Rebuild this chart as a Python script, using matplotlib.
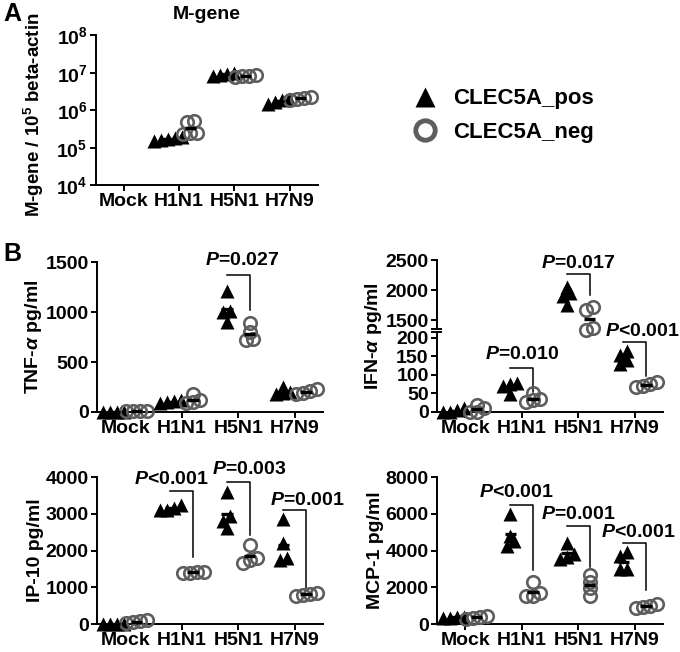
import numpy as np
import matplotlib
matplotlib.use('Agg')
import matplotlib.pyplot as plt
from matplotlib.lines import Line2D

plt.rcParams['font.family'] = ['Liberation Sans', 'DejaVu Sans']
plt.rcParams['font.weight'] = 'bold'
plt.rcParams['mathtext.fontset'] = 'custom'
plt.rcParams['mathtext.rm'] = 'Liberation Sans:bold'
plt.rcParams['mathtext.bf'] = 'Liberation Sans:bold'
plt.rcParams['mathtext.it'] = 'Liberation Sans:italic:bold'
plt.rcParams['axes.linewidth'] = 1.4

# data
groups = ['Mock', 'H1N1', 'H5N1', 'H7N9']

mgene_pos = [[], [1.6e5, 1.8e5, 1.7e5, 1.5e5, 1.9e5], [8.5e6, 9.5e6, 8.0e6, 1.0e7], [1.7e6, 1.9e6, 1.5e6, 2.0e6]]
mgene_neg = [[], [4.8e5, 5.0e5, 2.4e5, 2.3e5, 2.5e5], [8.0e6, 8.5e6, 7.5e6, 8.2e6], [2.0e6, 2.3e6, 2.1e6, 1.9e6]]

tnf_pos = [[0, 0, 0, 0], [120, 90, 110, 100], [1210, 1000, 1010, 900], [250, 200, 190, 180]]
tnf_neg = [[10, 10, 10, 10], [100, 90, 180, 120], [890, 800, 730, 720], [230, 180, 190, 210]]

ifn_pos = [[0, 0, 5, 10], [75, 78, 70, 48], [2050, 1950, 1900, 1750], [165, 155, 130, 140]]
ifn_neg = [[0, 10, 20, 0], [50, 35, 27, 33], [1710, 1660, 1370, 1330], [80, 68, 75, 70]]

ip10_pos = [[10, 10, 10, 10], [3150, 3100, 3250, 3100], [3600, 2950, 2800, 2600], [2850, 2200, 1750, 1800]]
ip10_neg = [[40, 110, 70, 50], [1420, 1380, 1400, 1410], [2150, 1800, 1650, 1750], [850, 760, 800, 820]]

mcp1_pos = [[350, 400, 350, 380], [6000, 4800, 4500, 4250], [4400, 3800, 3650, 3550], [3700, 3900, 3000, 3000]]
mcp1_neg = [[350, 450, 250, 380], [2300, 1700, 1500, 1550], [2650, 2300, 1950, 1550], [1100, 850, 950, 1000]]

# p-value labels: (group index, label)
tnf_p = [(2, '$P$=0.027')]
ifn_p = [(1, '$P$=0.010'), (2, '$P$=0.017'), (3, '$P$<0.001')]
ip10_p = [(1, '$P$<0.001'), (2, '$P$=0.003'), (3, '$P$=0.001')]
mcp1_p = [(1, '$P$<0.001'), (2, '$P$=0.001'), (3, '$P$<0.001')]

# bracket layout: (bracket top, bracket end, text dx, text y)
tnf_br = [(1370, 1020, 0.07, 1520)]
ifn_br = [(119, 55, 0.0, 154), (2270, 1914, 0.0, 2450), (188, 96, 0.14, 217)]
ip10_br = [(3620, 1810, -0.18, 3930), (3868, 2429, 0.2, 4194), (3090, 971, 0.22, 3356)]
mcp1_br = [(6481, 2914, -0.1, 7152), (5351, 3090, 0.0, 5951), (4415, 1854, 0.07, 4998)]

TICK_FS = 14
P_FS = 14
GREY = '#5e5e5e'

fig = plt.figure(figsize=(6.8, 6.52), dpi=100)


def style_axis(ax, xaxis=True):
    ax.set_facecolor('none')
    for s in ['top', 'right']:
        ax.spines[s].set_visible(False)
    ax.tick_params(axis='both', direction='out', length=4, width=1.4,
                   labelsize=TICK_FS, pad=2)
    ax.tick_params(axis='x', pad=1.5)
    ax.set_xlim(-0.5, 3.5)
    if xaxis:
        ax.set_xticks(range(len(groups)))
        ax.set_xticklabels(groups, fontweight='bold')
    else:
        ax.spines['bottom'].set_visible(False)
        ax.set_xticks([])
    for lab in ax.get_yticklabels():
        lab.set_fontweight('bold')


def swarm_x(ax, vals, xc, step_px=7, row_px=6):
    # spread points that sit at almost the same height, GraphPad style
    vals = np.asarray(vals, dtype=float)
    xs = np.full(len(vals), float(xc))
    if len(vals) == 0:
        return xs
    py = ax.transData.transform(np.column_stack([np.zeros(len(vals)), vals]))[:, 1]
    px0 = ax.transData.transform([[0, 0], [1, 0]])[:, 0]
    step = step_px / (px0[1] - px0[0])
    order = np.argsort(py)
    rows = [[order[0]]]
    for i in order[1:]:
        if py[i] - py[rows[-1][0]] < row_px:
            rows[-1].append(i)
        else:
            rows.append([i])
    for r in rows:
        n = len(r)
        for k, i in enumerate(r):
            xs[i] = xc + (k - (n - 1) / 2) * step
    return xs


def draw_group(ax, vals, xc, kind):
    if len(vals) == 0:
        return
    xs = swarm_x(ax, vals, xc)
    if kind == 'pos':
        ax.plot(xs, vals, ls='none', marker='^', ms=9.5, color='black',
                mec='none', clip_on=False, zorder=3)
    else:
        ax.plot(xs, vals, ls='none', marker='o', ms=9, mfc='none',
                mec=GREY, mew=1.9, clip_on=False, zorder=3)
    m = np.mean(vals)
    ax.plot([xc - 0.1, xc + 0.1], [m, m], color='black', lw=2.4,
            solid_capstyle='butt', clip_on=False, zorder=4)


def draw_panel(ax, pos, neg, pick=None):
    for i in range(len(groups)):
        for vals, dx, kind in [(pos[i], -0.2, 'pos'), (neg[i], 0.2, 'neg')]:
            if pick is not None and not pick(vals):
                continue
            draw_group(ax, vals, i + dx, kind)


def draw_p(ax, g, label, br):
    top, end, tdx, ty = br
    ax.plot([g - 0.2, g + 0.2, g + 0.2], [top, top, end], color='black',
            lw=1.1, clip_on=False, zorder=2)
    ax.text(g + tdx, ty, label, ha='center', va='center', fontsize=P_FS,
            fontweight='bold', clip_on=False, zorder=5)


# panel A
axA = fig.add_axes([0.141, 0.716, 0.326, 0.230])
axA.set_yscale('log')
axA.set_ylim(1e4, 1e8)
axA.set_yticks([1e4, 1e5, 1e6, 1e7, 1e8])
axA.set_yticklabels(['$10^{%d}$' % e for e in range(4, 9)])
axA.minorticks_off()
style_axis(axA)
draw_panel(axA, mgene_pos, mgene_neg)
axA.set_ylabel('M-gene / 10$^5$ beta-actin', fontsize=13.5, fontweight='bold')
axA.yaxis.set_label_coords(-0.225, 0.47)
axA.set_title('M-gene', fontsize=TICK_FS, fontweight='bold', pad=12)

# legend
handles = [Line2D([], [], ls='none', marker='^', ms=15, color='black', mec='none'),
           Line2D([], [], ls='none', marker='o', ms=14, mfc='none', mec=GREY, mew=3.5)]
fig.legend(handles, ['CLEC5A_pos', 'CLEC5A_neg'], loc='center left',
           bbox_to_anchor=(0.609, 0.823), frameon=False, fontsize=16,
           handlelength=1.0, handletextpad=0.77, labelspacing=0.55,
           borderpad=0, borderaxespad=0)

# TNF
axT = fig.add_axes([0.1426, 0.3681, 0.3324, 0.230])
axT.set_ylim(0, 1500)
axT.set_yticks([0, 500, 1000, 1500])
style_axis(axT)
draw_panel(axT, tnf_pos, tnf_neg)
for (g, lab), br in zip(tnf_p, tnf_br):
    draw_p(axT, g, lab, br)
axT.set_ylabel(r'TNF-$\alpha$ pg/ml', fontsize=TICK_FS, fontweight='bold')
axT.yaxis.set_label_coords(-0.235, 0.5)

# IFN with broken axis
axIl = fig.add_axes([0.6426, 0.3681, 0.3324, 0.1227])
axIu = fig.add_axes([0.6426, 0.4954, 0.3324, 0.1058])
axIl.set_zorder(3)
axIl.set_ylim(0, 216)
axIl.set_yticks([0, 50, 100, 150, 200])
axIu.set_ylim(1350, 2500)
axIu.set_yticks([1500, 2000, 2500])
style_axis(axIl)
style_axis(axIu, xaxis=False)
draw_panel(axIl, ifn_pos, ifn_neg, pick=lambda v: np.mean(v) < 1000)
draw_panel(axIu, ifn_pos, ifn_neg, pick=lambda v: np.mean(v) >= 1000)
for ax_, y_ in [(axIu, 0), (axIl, 1)]:
    ax_.plot([-0.02, 0.02], [y_, y_], transform=ax_.transAxes, color='black',
             lw=1.4, clip_on=False)
for (g, lab), br in zip(ifn_p, ifn_br):
    draw_p(axIu if g == 2 else axIl, g, lab, br)
axIl.set_ylabel(r'IFN-$\alpha$ pg/ml', fontsize=TICK_FS, fontweight='bold')
axIl.yaxis.set_label_coords(-0.235, 0.95)

# IP-10
axP = fig.add_axes([0.1426, 0.0429, 0.3324, 0.2255])
axP.set_ylim(0, 4000)
axP.set_yticks(range(0, 4001, 1000))
style_axis(axP)
draw_panel(axP, ip10_pos, ip10_neg)
for (g, lab), br in zip(ip10_p, ip10_br):
    draw_p(axP, g, lab, br)
axP.set_ylabel('IP-10 pg/ml', fontsize=TICK_FS, fontweight='bold')
axP.yaxis.set_label_coords(-0.235, 0.5)

# MCP-1
axM = fig.add_axes([0.6426, 0.0429, 0.3324, 0.2255])
axM.set_ylim(0, 8000)
axM.set_yticks(range(0, 8001, 2000))
style_axis(axM)
draw_panel(axM, mcp1_pos, mcp1_neg)
for (g, lab), br in zip(mcp1_p, mcp1_br):
    draw_p(axM, g, lab, br)
axM.set_ylabel('MCP-1 pg/ml', fontsize=TICK_FS, fontweight='bold')
axM.yaxis.set_label_coords(-0.235, 0.5)

fig.text(0.005, 0.997, 'A', fontsize=18, fontweight='bold', va='top', ha='left')
fig.text(0.005, 0.629, 'B', fontsize=18, fontweight='bold', va='top', ha='left')

fig.savefig('out.png', dpi=100)
